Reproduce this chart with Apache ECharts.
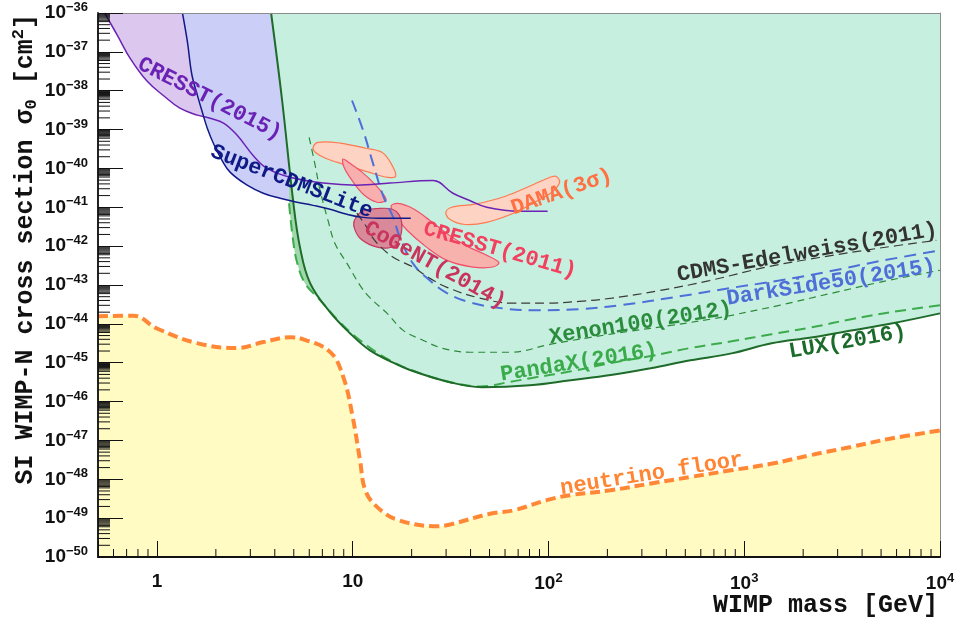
<!DOCTYPE html>
<html>
<head>
<meta charset="utf-8">
<script src="https://cdn.jsdelivr.net/npm/echarts@6/dist/echarts.min.js"></script>
<style>
  html, body { margin: 0; padding: 0; background: #ffffff; }
  #chart { width: 960px; height: 620px; }
</style>
</head>
<body>
<div id="chart"></div>
<script>
// Spin-independent WIMP-nucleon cross section limits, [mass GeV, sigma cm^2]

const neutrinoFloor = [
  [0.5, 1.58e-44], [0.76, 1.62e-44], [1.0, 7.6e-45], [1.6, 3.2e-45], [2.56, 2.4e-45],
  [3.5, 3.4e-45], [4.79, 4.5e-45], [5.6, 4.0e-45], [7.66, 1.9e-45], [8.95, 4.3e-46],
  [10.0, 4.0e-47], [10.9, 3.1e-48], [11.6, 5.2e-49], [13.3, 1.95e-49], [17.1, 8.9e-50],
  [27.3, 6.2e-50], [31.6, 6.9e-50], [50.4, 1.3e-49], [66.6, 1.6e-49], [98, 2.9e-49],
  [129, 3.9e-49], [207, 5.2e-49], [334, 7.8e-49], [533, 1.15e-48], [855, 1.7e-48],
  [1370, 2.5e-48], [2190, 4.2e-48], [3500, 6.8e-48], [5620, 1.12e-47], [10000, 1.8e-47]
];

const lux2016 = [
  [3.83, 1e-36], [4.36, 5.6e-39], [4.96, 1.5e-41], [5.38, 9.3e-43], [6.06, 1.12e-43],
  [7.66, 2.0e-44], [9.68, 5.75e-45], [12.2, 2.1e-45], [15.5, 1.1e-45], [19.6, 6.5e-46],
  [31.3, 3.16e-46], [45.7, 2.35e-46], [80.4, 2.63e-46], [130, 3.55e-46], [208, 4.8e-46],
  [333, 7.2e-46], [532, 1.15e-45], [861, 1.74e-45], [1380, 3.16e-45], [2200, 4.47e-45],
  [3520, 6.76e-45], [5640, 1.02e-44], [10000, 1.86e-44]
];

const pandax2016 = [
  [4.73, 1.26e-41], [4.96, 1.41e-42], [5.2, 3.8e-43], [5.71, 1.1e-43], [6.81, 4.1e-44],
  [8.61, 1.1e-44], [10.9, 3.8e-45], [15.5, 1.15e-45], [22.0, 5.4e-46], [31.3, 3.2e-46],
  [44.6, 2.45e-46], [63.4, 3.2e-46], [81.1, 4.0e-46], [130, 6.0e-46], [208, 9.8e-46],
  [333, 1.48e-45], [532, 2.4e-45], [861, 3.55e-45], [1380, 5.4e-45], [2200, 8.1e-45],
  [3520, 1.32e-44], [5640, 2.0e-44], [10000, 3.0e-44]
];

const xenon100 = [
  [5.99, 6.3e-40], [6.43, 1.2e-40], [6.81, 2.75e-41], [7.48, 4.6e-42], [8.12, 1.17e-42],
  [9.35, 3.6e-43], [10.9, 9.8e-44], [12.2, 4.8e-44], [15.0, 1.86e-44], [18.1, 6.8e-45],
  [22.8, 3.8e-45], [28.9, 2.35e-45], [39.6, 1.86e-45], [63.4, 1.86e-45], [103, 3.0e-45],
  [164, 4.5e-45], [263, 6.5e-45], [421, 9.1e-45], [673, 1.32e-44], [861, 1.66e-44],
  [1510, 3.0e-44], [2820, 6.2e-44], [4900, 1.17e-43], [10000, 2.4e-43]
];

const darkSide50 = [
  [9.92, 5.6e-39], [11.3, 9.5e-40], [12.7, 1.35e-40], [14.3, 2.0e-41], [16.1, 5.5e-42],
  [17.4, 1.7e-42], [20.3, 3.6e-43], [24.8, 1.3e-43], [30.3, 6.2e-44], [39.6, 3.6e-44],
  [58.5, 2.5e-44], [90.3, 2.24e-44], [144, 2.4e-44], [231, 3.0e-44], [468, 5.1e-44],
  [841, 8.3e-44], [1510, 1.3e-43], [2720, 2.24e-43], [4900, 4.1e-43], [10000, 7.8e-43]
];

const cdmsEdelweiss = [
  [10.5, 7.1e-42], [11.6, 3.5e-42], [12.7, 1.6e-42], [14.1, 8.9e-43], [16.4, 4.9e-43],
  [20.3, 2.9e-43], [24.8, 1.48e-43], [30.3, 8.7e-44], [44.6, 4.6e-44], [65.8, 3.4e-44],
  [98, 3.4e-44], [144, 3.8e-44], [211, 4.6e-44], [370, 7.2e-44], [665, 1.3e-43],
  [1300, 2.9e-43], [2420, 5.1e-43], [4900, 8.9e-43], [9570, 1.41e-42]
];

const cresst2015 = [
  [0.54, 1e-36], [0.627, 2.7e-37], [0.73, 6.8e-38], [0.892, 1.74e-38], [1.09, 7.2e-39],
  [1.31, 3.55e-39], [1.61, 2.35e-39], [1.87, 1.95e-39], [2.2, 1.45e-39], [2.57, 7.1e-40],
  [3.14, 2.0e-40], [3.65, 1.0e-40], [4.79, 5.9e-41], [7.06, 4.2e-41], [10.5, 3.7e-41],
  [15.5, 4.2e-41], [25.7, 4.9e-41], [32.5, 2.3e-41], [39.6, 1.5e-41], [48.4, 1.0e-41],
  [71.3, 7.9e-42], [99, 7.9e-42]
];

const superCdmsLite = [
  [1.35, 1e-36], [1.43, 1.86e-37], [1.51, 2.5e-38], [1.61, 7.6e-39], [1.70, 2.95e-39],
  [1.81, 1.07e-39], [1.96, 4.0e-40], [2.15, 1.62e-40], [2.37, 7.9e-41], [2.89, 3.7e-41],
  [3.49, 2.3e-41], [4.26, 1.7e-41], [5.2, 1.35e-41], [6.27, 1.12e-41], [7.66, 8.9e-42],
  [9.35, 6.6e-42], [11.3, 5.5e-42], [14.6, 5.2e-42], [19.8, 5.2e-42]
];

// Signal regions (closed contours)
const damaLow = [
  [6.28, 3.5e-40], [6.65, 4.7e-40], [8.61, 4.5e-40], [11.7, 3.3e-40], [14.1, 2.6e-40],
  [15.7, 1.35e-40], [16.6, 6.3e-41], [15.1, 5.9e-41], [12.2, 7.9e-41], [9.35, 1.2e-40],
  [7.31, 1.8e-40], [6.43, 2.6e-40]
];
const damaHigh = [
  [29.9, 7.4e-42], [32.1, 1.0e-41], [42.1, 1.2e-41], [59.8, 1.9e-41], [82.2, 3.7e-41],
  [99, 5.6e-41], [109, 6.3e-41], [114, 4.4e-41], [104, 2.45e-41], [85.2, 1.35e-41],
  [65.8, 6.9e-42], [48.4, 4.1e-42], [37.4, 3.6e-42], [31.3, 4.9e-42]
];
const cresst2011Low = [
  [8.91, 1.74e-40], [9.68, 1.35e-40], [11.2, 7.9e-41], [13.0, 3.9e-41], [14.4, 2.1e-41],
  [14.8, 1.5e-41], [13.3, 1.35e-41], [11.4, 2.1e-41], [9.92, 4.9e-41], [9.03, 1.07e-40]
];
const cresst2011High = [
  [15.7, 1.07e-41], [17.0, 1.26e-41], [20.3, 9.3e-42], [24.8, 4.6e-42], [30.3, 2.1e-42],
  [38.3, 1.0e-42], [48.4, 5.8e-43], [55.8, 3.8e-43], [52.0, 2.9e-43], [41.1, 2.9e-43],
  [30.3, 4.3e-43], [23.9, 9.3e-43], [18.9, 2.6e-42], [16.8, 5.5e-42]
];
const cogent2014 = [
  [10.2, 4.6e-42], [11.2, 7.9e-42], [13.5, 9.3e-42], [15.9, 8.9e-42], [17.4, 5.9e-42],
  [17.8, 2.6e-42], [16.8, 1.12e-42], [15.0, 8.9e-43], [12.8, 1.0e-42], [10.9, 1.6e-42],
  [10.2, 2.9e-42]
];

// Curve annotations, anchored in data coordinates
const curveLabels = [
  { text: 'CRESST(2015)', at: [1.86, 6.1e-39], rot: -27, color: '#6a22b4' },
  { text: 'SuperCDMSLite', at: [4.88, 4.5e-41], rot: -21, color: '#0e1a86' },
  { text: 'DAMA(3σ)', at: [117, 2.45e-41], rot: 19, color: '#ff7043' },
  { text: 'CRESST(2011)', at: [56.5, 7.8e-43], rot: -16, color: '#f2405e' },
  { text: 'CoGeNT(2014)', at: [26.3, 3.2e-43], rot: -29, color: '#c8345c' },
  { text: 'CDMS-Edelweiss(2011)', at: [2100, 6.8e-43], rot: 10, color: '#333333' },
  { text: 'DarkSide50(2015)', at: [2780, 1.15e-43], rot: 9, color: '#4f6fd8' },
  { text: 'Xenon100(2012)', at: [296, 1.04e-44], rot: 9, color: '#2a8c3c' },
  { text: 'PandaX(2016)', at: [143, 1.0e-45], rot: 9, color: '#3aab4b' },
  { text: 'LUX(2016)', at: [3370, 3.4e-45], rot: 10, color: '#1b6b2b' },
  { text: 'neutrino floor', at: [337, 1.35e-48], rot: 9, color: '#ff8533' }
];

const X_MIN = 0.5, X_MAX = 1e4, Y_MIN = 1e-50, Y_MAX = 1e-36;

// Axes are linear in decades: every value is placed by its base-10 logarithm.
const lg = p => [Math.log10(p[0]), Math.log10(p[1])];
const LX0 = Math.log10(X_MIN), LX1 = Math.log10(X_MAX);
const LY0 = Math.log10(Y_MIN), LY1 = Math.log10(Y_MAX);

const MONO = '"Liberation Mono", "DejaVu Sans Mono", monospace';
const SANS = '"Liberation Sans", Arial, sans-serif';

function fillSeries(pts, color, origin, z) {
  return {
    type: 'line', data: pts.map(lg), symbol: 'none', smooth: 0.4,
    lineStyle: { width: 0 }, areaStyle: { color: color, opacity: 1, origin: origin },
    z: z, silent: true
  };
}
function curveSeries(pts, color, width, dash, z) {
  return {
    type: 'line', data: pts.map(lg), symbol: 'none', smooth: 0.4,
    lineStyle: { color: color, width: width, type: dash || 'solid', cap: 'butt' },
    z: z, silent: true
  };
}
function regionSeries(pts, fill, stroke, z) {
  return {
    type: 'custom', data: [lg(pts[0])], z: z, silent: true, clip: true,
    renderItem: function (params, api) {
      return {
        type: 'polygon',
        shape: { points: pts.map(p => api.coord(lg(p))), smooth: 0.35 },
        style: { fill: fill, stroke: stroke, lineWidth: 1.2 }
      };
    }
  };
}

// Logarithmic minor ticks
const xMinor = [];
for (let n = -1; n < 4; n++) {
  for (const k of [2, 3, 4, 5, 6, 7, 8, 9]) {
    const v = n + Math.log10(k);
    if (v > LX0 + 1e-9) xMinor.push([v, LY0]);
  }
}
const yMinor = [];
for (let n = -50; n < -36; n++) {
  for (const k of [2, 3, 4, 5, 6, 6.5, 7, 7.5, 8, 8.5, 9, 9.5]) yMinor.push([LX0, n + Math.log10(k)]);
}

function supLabel(n) {
  if (n === 0) return '{b|1}';
  if (n === 1) return '{b|10}';
  return '{b|10}{s|' + (n < 0 ? '\u2212' + (-n) : n) + '}';
}
const tickRich = {
  b: { fontSize: 19, fontWeight: 'bold', fontFamily: SANS, color: '#111' },
  s: { fontSize: 13, fontWeight: 'bold', fontFamily: SANS, color: '#111', padding: [0, 0, 11, 0] }
};

const chart = echarts.init(document.getElementById('chart'), null, { renderer: 'canvas' });

chart.setOption({
  animation: false,
  backgroundColor: '#ffffff',
  grid: { left: 98, right: 20, top: 13, bottom: 63, containLabel: false },
  xAxis: [
    {
      type: 'value', min: LX0, max: LX1, z: 8,
      axisLine: { show: true, onZero: false, lineStyle: { color: '#111', width: 2 } },
      axisTick: { show: true, inside: true, length: 16, lineStyle: { color: '#111', width: 1 } },
      splitLine: { show: false },
      axisLabel: {
        margin: 15,
        formatter: function (v) {
          const n = Math.round(v);
          return Math.abs(v - n) > 1e-6 ? '' : supLabel(n);
        },
        rich: tickRich
      }
    },
    {
      type: 'value', position: 'top', min: LX0, max: LX1, z: 8,
      axisLine: { show: true, onZero: false, lineStyle: { color: '#8c8c8c', width: 1 } },
      axisTick: { show: false }, axisLabel: { show: false }, splitLine: { show: false }
    }
  ],
  yAxis: [
    {
      type: 'value', min: LY0, max: LY1, interval: 1, z: 8,
      axisLine: { show: true, onZero: false, lineStyle: { color: '#222', width: 2 } },
      axisTick: { show: true, inside: true, length: 25, lineStyle: { color: '#111', width: 1 } },
      splitLine: { show: false },
      axisLabel: {
        margin: 10,
        formatter: function (v) { return supLabel(Math.round(v)); },
        rich: tickRich
      }
    },
    {
      type: 'value', position: 'right', min: LY0, max: LY1, z: 8,
      axisLine: { show: true, onZero: false, lineStyle: { color: '#8c8c8c', width: 1 } },
      axisTick: { show: false }, axisLabel: { show: false }, splitLine: { show: false }
    }
  ],
  series: [
    // excluded / reachable regions
    fillSeries(neutrinoFloor, '#fffbc2', 'start', 1),
    fillSeries(cresst2015, '#dcc8ee', 'end', 1),
    fillSeries(superCdmsLite, '#cbcff8', 'end', 1),
    fillSeries(pandax2016, '#9fd8ab', 'end', 1),
    fillSeries(lux2016, '#c7efdf', 'end', 1),

    // signal regions
    regionSeries(damaLow, '#fdd3c3', '#ff7a50', 3),
    regionSeries(damaHigh, '#fdd3c3', '#ff7a50', 3),
    regionSeries(cresst2011Low, '#f8afae', '#f2506a', 3),
    regionSeries(cresst2011High, '#f8b2ae', '#f2506a', 3),
    regionSeries(cogent2014, '#d8899a', '#c63a60', 3),

    // limit curves
    curveSeries(xenon100, '#2c8a3a', 1.2, [7, 5], 4),
    curveSeries(cdmsEdelweiss, '#3a3a3a', 1.2, [9, 5], 4),
    curveSeries(darkSide50, '#4c6fd9', 2, [12, 7], 4),
    curveSeries(pandax2016, '#3cab4c', 2, [11, 6], 4),
    curveSeries(lux2016, '#1e6b2a', 2, 'solid', 4),
    curveSeries(cresst2015, '#6b22b5', 1.5, 'solid', 4),
    curveSeries(superCdmsLite, '#121a88', 1.5, 'solid', 4),
    curveSeries(neutrinoFloor, '#ff8736', 4, [10, 5], 4),

    // minor ticks
    {
      type: 'custom', data: xMinor, z: 9, silent: true, clip: false,
      renderItem: function (params, api) {
        const p = api.coord([api.value(0), api.value(1)]);
        return { type: 'line', shape: { x1: p[0], y1: p[1], x2: p[0], y2: p[1] - 8 },
                 style: { stroke: '#111', lineWidth: 1 } };
      }
    },
    {
      type: 'custom', data: yMinor, z: 9, silent: true, clip: false,
      renderItem: function (params, api) {
        const p = api.coord([api.value(0), api.value(1)]);
        return { type: 'line', shape: { x1: p[0], y1: p[1], x2: p[0] + 12, y2: p[1] },
                 style: { stroke: '#111', lineWidth: 1 } };
      }
    },

    // curve annotations
    {
      type: 'custom', data: curveLabels.map(l => lg(l.at)), z: 10, silent: true, clip: false,
      renderItem: function (params, api) {
        const l = curveLabels[params.dataIndex];
        const p = api.coord([api.value(0), api.value(1)]);
        return {
          type: 'text', x: p[0], y: p[1], rotation: l.rot * Math.PI / 180,
          style: { text: l.text, fill: l.color, font: 'bold 22px ' + MONO,
                   align: 'center', verticalAlign: 'middle' }
        };
      }
    }
  ],
  graphic: [
    {
      type: 'text', x: 26, y: 14, rotation: Math.PI / 2, z: 20,
      style: {
        text: '{a|SI WIMP-N cross section σ}{sub|0}{a| [cm}{sup|2}{a|]}',
        align: 'right', verticalAlign: 'middle',
        rich: {
          a: { fontSize: 25, fontWeight: 'bold', fontFamily: MONO, fill: '#111' },
          sub: { fontSize: 17, fontWeight: 'bold', fontFamily: MONO, fill: '#111', padding: [12, 0, 0, 0] },
          sup: { fontSize: 17, fontWeight: 'bold', fontFamily: MONO, fill: '#111', padding: [0, 0, 14, 0] }
        }
      }
    },
    {
      type: 'text', x: 938, y: 606, z: 20,
      style: { text: 'WIMP mass [GeV]', fill: '#111', font: 'bold 25px ' + MONO,
               align: 'right', verticalAlign: 'middle' }
    }
  ]
});
</script>
</body>
</html>
